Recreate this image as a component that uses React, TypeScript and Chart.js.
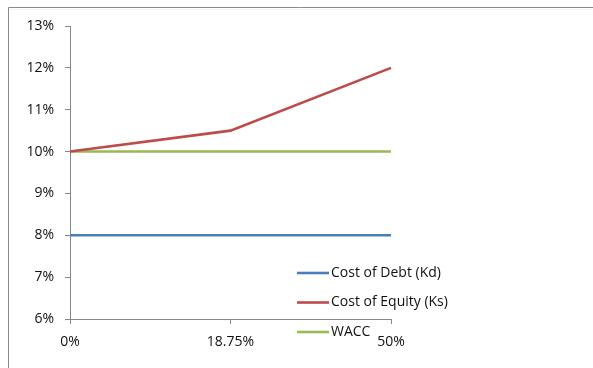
import React, { useEffect, useRef } from "react";
import { Chart, registerables } from "chart.js";

Chart.register(...registerables);

const categories = ["0%", "18.75%", "50%"];
const costOfDebt = [8, 8, 8];
const costOfEquity = [10, 10.5, 12];
const wacc = [10, 10, 10];
const seriesNames = ["Cost of Debt (Kd)", "Cost of Equity (Ks)", "WACC"];
const yMin = 6;
const yMax = 13;

const FONT = "'Open Sans', 'DejaVu Sans', sans-serif";

const frameAndLegend = {
  id: "frameAndLegend",
  afterDraw(chart: any) {
    const ctx = chart.ctx;
    ctx.save();
    // outer frame (top + left)
    ctx.strokeStyle = "#8a8a8a";
    ctx.lineWidth = 1;
    ctx.beginPath();
    ctx.moveTo(8.5, chart.height);
    ctx.lineTo(8.5, 7.5);
    ctx.lineTo(chart.width, 7.5);
    ctx.stroke();
    ctx.strokeStyle = "rgba(0,0,0,0.04)";
    ctx.beginPath();
    ctx.moveTo(9, 9.5);
    ctx.lineTo(chart.width, 9.5);
    ctx.stroke();
    // legend
    const x0 = 297;
    const x1 = 329;
    const yStart = 273;
    const gap = 29.5;
    ctx.font = "14px " + FONT;
    ctx.textBaseline = "middle";
    ctx.textAlign = "left";
    chart.data.datasets.forEach((ds: any, i: number) => {
      const y = yStart + i * gap;
      ctx.strokeStyle = ds.borderColor;
      ctx.lineWidth = 2.6;
      ctx.beginPath();
      ctx.moveTo(x0, y);
      ctx.lineTo(x1, y);
      ctx.stroke();
      ctx.fillStyle = "#111";
      ctx.fillText(ds.label, x1 + 2, y);
    });
    ctx.restore();
  },
};

export default function App() {
  const ref = useRef<HTMLCanvasElement | null>(null);
  useEffect(() => {
    document.body.style.margin = "0";
    const canvas = ref.current;
    if (!canvas) return;
    const chart = new Chart(canvas, {
      type: "line",
      data: {
        labels: categories,
        datasets: [
          { label: seriesNames[0], data: costOfDebt, borderColor: "#4A7EBB", backgroundColor: "#4A7EBB" },
          { label: seriesNames[1], data: costOfEquity, borderColor: "#BE4B48", backgroundColor: "#BE4B48" },
          { label: seriesNames[2], data: wacc, borderColor: "#98B954", backgroundColor: "#98B954" },
        ],
      },
      options: {
        animation: false,
        responsive: false,
        maintainAspectRatio: false,
        elements: {
          line: { borderWidth: 2.6, tension: 0 },
          point: { radius: 0, hoverRadius: 0 },
        },
        layout: { padding: { top: 26, right: 202, left: 0, bottom: 0 } },
        plugins: { legend: { display: false }, tooltip: { enabled: false } },
        scales: {
          x: {
            offset: false,
            grid: { display: true, drawOnChartArea: false, drawTicks: true, tickLength: 5, color: "#868686" },
            border: { display: true, color: "#868686" },
            ticks: { color: "#111", font: { family: FONT, size: 14 }, padding: 10, maxRotation: 0 },
            afterFit: (s: any) => {
              s.height = 49;
            },
          },
          y: {
            min: yMin,
            max: yMax,
            grid: { display: true, drawOnChartArea: false, drawTicks: true, tickLength: 5, color: "#868686" },
            border: { display: true, color: "#868686" },
            ticks: {
              stepSize: 1,
              color: "#111",
              font: { family: FONT, size: 14 },
              padding: 11,
              callback: (v: any) => v + "%",
            },
            afterFit: (s: any) => {
              s.width = 70;
            },
          },
        },
      },
      plugins: [frameAndLegend],
    });
    return () => chart.destroy();
  }, []);
  return (
    <div style={{ width: 593, height: 368, background: "#fff" }}>
      <canvas ref={ref} width={593} height={368} style={{ display: "block", width: 593, height: 368 }} />
    </div>
  );
}
